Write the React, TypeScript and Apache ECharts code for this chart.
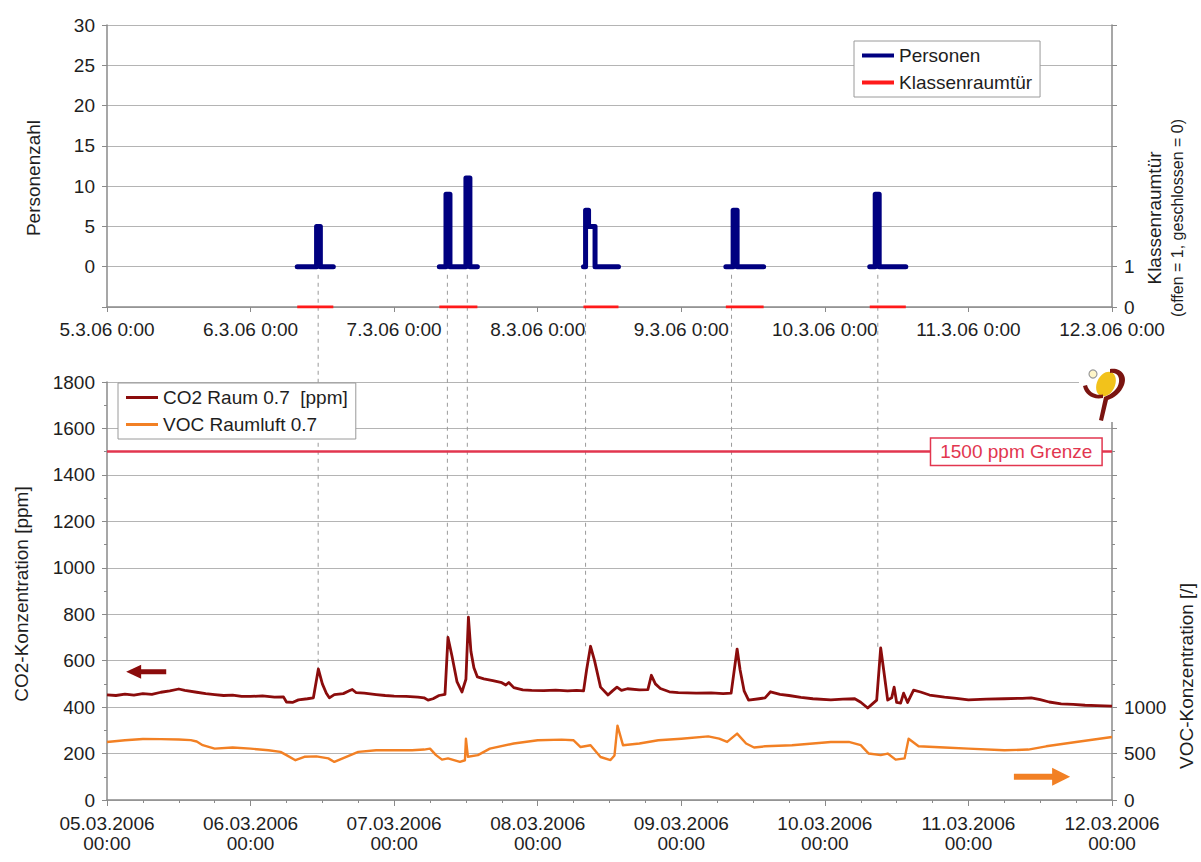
import React, { useEffect, useRef } from 'react';
import * as echarts from 'echarts';

// ---------- data ----------
const START_DAY = 5; // 05.03.2006 00:00

const topTickLabels = ['5.3.06 0:00', '6.3.06 0:00', '7.3.06 0:00', '8.3.06 0:00', '9.3.06 0:00', '10.3.06 0:00', '11.3.06 0:00', '12.3.06 0:00'];
const bottomTickLabels = ['05.03.2006\n00:00', '06.03.2006\n00:00', '07.03.2006\n00:00', '08.03.2006\n00:00', '09.03.2006\n00:00', '10.03.2006\n00:00', '11.03.2006\n00:00', '12.03.2006\n00:00'];

// persons (null = gap between lessons)
const personData: ([string, number] | null)[] = [
  ['6 07:48', 0], ['6 11:02', 0], ['6 11:02', 5], ['6 11:40', 5], ['6 11:40', 0], ['6 13:50', 0], null,
  ['7 07:33', 0], ['7 08:40', 0], ['7 08:40', 9], ['7 09:20', 9], ['7 09:20', 0], ['7 12:00', 0], ['7 12:00', 11], ['7 12:40', 11], ['7 12:40', 0], ['7 13:55', 0], null,
  ['8 07:39', 0], ['8 08:00', 0], ['8 08:00', 7], ['8 08:30', 7], ['8 08:30', 5], ['8 09:35', 5], ['8 09:35', 0], ['8 13:30', 0], null,
  ['9 07:27', 0], ['9 08:40', 0], ['9 08:40', 7], ['9 09:20', 7], ['9 09:20', 0], ['9 13:46', 0], null,
  ['10 07:30', 0], ['10 08:25', 0], ['10 08:25', 9], ['10 09:05', 9], ['10 09:05', 0], ['10 13:32', 0],
];

// classroom door (0 = closed)
const doorData: ([string, number] | null)[] = [
  ['6 07:48', 0], ['6 13:50', 0], null,
  ['7 07:33', 0], ['7 13:55', 0], null,
  ['8 07:39', 0], ['8 13:30', 0], null,
  ['9 07:27', 0], ['9 13:46', 0], null,
  ['10 07:30', 0], ['10 13:32', 0],
];

const co2Data: [string, number][] = [
  ['5 00:00', 453], ['5 01:30', 450], ['5 03:00', 456], ['5 04:30', 452], ['5 06:00', 458], ['5 07:30', 455], ['5 09:00', 464], ['5 10:30', 470], ['5 12:00', 478], ['5 13:00', 472], ['5 15:00', 464], ['5 16:30', 458], ['5 18:00', 454], ['5 19:30', 450], ['5 21:00', 452], ['5 22:30', 446],
  ['6 00:00', 446], ['6 02:00', 448], ['6 04:00', 443], ['6 05:30', 444], ['6 06:00', 422], ['6 07:00', 420], ['6 08:00', 431], ['6 09:30', 436], ['6 10:30', 440], ['6 11:20', 564], ['6 12:00', 500], ['6 12:40', 460], ['6 13:10', 440], ['6 14:00', 454], ['6 15:30', 458], ['6 16:30', 470], ['6 17:00', 476], ['6 17:40', 462], ['6 19:00', 460], ['6 21:00', 454], ['6 22:30', 450],
  ['7 00:00', 447], ['7 02:00', 446], ['7 04:00', 443], ['7 05:00', 440], ['7 05:40', 430], ['7 06:30', 436], ['7 07:30', 450], ['7 08:30', 455], ['7 09:00', 700], ['7 09:40', 620], ['7 10:30', 510], ['7 11:20', 465], ['7 12:00', 520], ['7 12:25', 787], ['7 12:50', 640], ['7 13:20', 570], ['7 13:55', 530], ['7 15:00', 522], ['7 16:30', 514], ['7 18:00', 505], ['7 18:40', 495], ['7 19:10', 506], ['7 20:00', 484], ['7 21:30', 474], ['7 23:00', 472],
  ['8 01:00', 471], ['8 03:00', 473], ['8 05:00', 470], ['8 06:30', 472], ['8 07:40', 470], ['8 08:10', 560], ['8 08:50', 662], ['8 09:30', 600], ['8 10:30', 486], ['8 11:45', 452], ['8 12:30', 470], ['8 13:15', 486], ['8 14:00', 472], ['8 15:00', 479], ['8 17:00', 474], ['8 18:25', 475], ['8 19:00', 537], ['8 19:40', 500], ['8 20:30', 480], ['8 22:00', 466], ['8 23:30', 462],
  ['9 02:30', 460], ['9 05:00', 461], ['9 07:00', 458], ['9 08:20', 460], ['9 09:20', 650], ['9 09:50', 560], ['9 10:30', 470], ['9 11:15', 430], ['9 13:00', 436], ['9 14:00', 440], ['9 14:55', 466], ['9 16:30', 455], ['9 18:00', 450], ['9 20:00', 442], ['9 22:00', 436],
  ['10 01:00', 431], ['10 03:00', 434], ['10 05:00', 436], ['10 06:00', 421], ['10 07:10', 396], ['10 08:00', 415], ['10 08:40', 430], ['10 09:20', 655], ['10 09:50', 560], ['10 10:30', 430], ['10 11:10', 440], ['10 11:35', 486], ['10 12:00', 420], ['10 12:40', 417], ['10 13:10', 460], ['10 13:50', 420], ['10 14:50', 473], ['10 16:00', 465], ['10 17:30', 452], ['10 20:00', 443], ['10 22:00', 438],
  ['11 00:00', 431], ['11 03:00', 434], ['11 06:00', 436], ['11 09:00', 438], ['11 10:30', 440], ['11 12:00', 432], ['11 13:30', 422], ['11 15:30', 414], ['11 17:30', 412], ['11 19:30', 408], ['11 21:30', 406], ['12 00:00', 404],
];

const vocData: [string, number][] = [
  ['5 00:00', 625], ['5 03:00', 643], ['5 06:00', 657], ['5 09:00', 655], ['5 12:00', 652], ['5 14:00', 645], ['5 15:00', 630], ['5 16:00', 590], ['5 18:00', 553], ['5 21:00', 565],
  ['6 00:00', 553], ['6 03:00', 535], ['6 05:00', 518], ['6 06:00', 483], ['6 07:30', 428], ['6 09:00', 465], ['6 11:00', 470], ['6 13:00', 448], ['6 14:00', 410], ['6 16:00', 465], ['6 18:00', 518], ['6 21:00', 535],
  ['7 00:00', 535], ['7 03:00', 535], ['7 05:00', 543], ['7 06:00', 553], ['7 07:00', 483], ['7 08:00', 435], ['7 09:00', 448], ['7 11:00', 410], ['7 11:50', 428], ['7 12:00', 660], ['7 12:20', 465], ['7 14:00', 483], ['7 16:00', 553], ['7 20:00', 608],
  ['8 00:00', 643], ['8 04:00', 650], ['8 06:00', 643], ['8 07:10', 570], ['8 08:50', 590], ['8 10:30', 463], ['8 12:10', 430], ['8 12:50', 480], ['8 13:20', 800], ['8 14:15', 590], ['8 17:00', 608], ['8 20:10', 643],
  ['9 00:00', 660], ['9 04:30', 685], ['9 06:20', 660], ['9 07:40', 625], ['9 09:20', 715], ['9 10:50', 608], ['9 12:10', 565], ['9 14:00', 578], ['9 18:30', 590],
  ['10 01:00', 625], ['10 04:00', 625], ['10 06:00', 590], ['10 07:20', 500], ['10 09:20', 483], ['10 10:30', 500], ['10 11:50', 435], ['10 13:20', 448], ['10 14:00', 660], ['10 15:40', 578], ['10 20:00', 565],
  ['11 00:00', 553], ['11 06:00', 535], ['11 10:00', 543], ['11 13:00', 578], ['11 18:00', 625], ['12 00:00', 678],
];

// dashed connector lines: person event time and CO2 peak reached
const eventTimes = ['6 11:18', '7 08:54', '7 12:14', '8 08:00', '9 08:24', '10 08:51'];
const eventPeaks = [565, 700, 787, 662, 650, 655];

const LIMIT = 1500;
const LIMIT_LABEL_TIME = '11 08:00';
const LIMIT_LABEL = '1500 ppm Grenze';

// ---------- helpers ----------
const toH = (s: string) => {
  const [d, hm] = s.split(' ');
  const [h, m] = hm.split(':').map(Number);
  return (Number(d) - START_DAY) * 24 + h + m / 60;
};
const conv = (arr: ([string, number] | null)[]) =>
  arr.map((p) => (p ? [toH(p[0]), p[1]] : [null, null]));

const FONT = '"Liberation Sans", Arial, sans-serif';
const TXT = '#1e1e1e';
const GRID = '#b4b4b4';
const AXIS = '#8a8a8a';
const NAVY = '#000080';
const RED = '#ff1a1a';
const CO2C = '#8b0c0c';
const VOCC = '#f28024';
const LIMC = '#e2364f';
const FS = 19;

let registered = false;
function registerLogo() {
  if (registered) return;
  registered = true;
  echarts.graphic.registerShape(
    'logoSwirl',
    echarts.graphic.extendPath(
      'M30 2 C40 0 48 8 44 18 C41 26 34 31 28 33 L23 54 L19 53 L24 30 C32 27 38 22 39 15 C40 9 36 5 30 6 Z',
      {}
    )
  );
  echarts.graphic.registerShape(
    'logoHook',
    echarts.graphic.extendPath('M3 19 C5 28 13 33 23 31 L23 27.5 C15 29 9 25 7 18 Z', {})
  );
}

export default function App() {
  const ref = useRef<HTMLDivElement>(null);

  useEffect(() => {
    document.body.style.margin = '0';
    registerLogo();
    const chart = echarts.init(ref.current!, null, { renderer: 'svg' });

    const axisLabel = { color: TXT, fontSize: FS, fontFamily: FONT };
    const legendBase = {
      orient: 'vertical',
      padding: [5, 8, 5, 8],
      itemGap: 8,
      itemWidth: 32,
      icon: 'rect',
      backgroundColor: '#fff',
      borderColor: '#9a9a9a',
      borderWidth: 1,
      textStyle: { ...axisLabel },
    };

    const option: any = {
      animation: false,
      backgroundColor: '#ffffff',
      textStyle: { fontFamily: FONT },
      grid: [
        { left: 107, right: 89, top: 25, height: 282 },
        { left: 107, right: 89, top: 382, height: 418 },
      ],
      legend: [
        { ...legendBase, data: ['Personen', 'Klassenraumtür'], left: 854, top: 41, itemHeight: 4 },
        { ...legendBase, data: ['CO2 Raum 0.7  [ppm]', 'VOC Raumluft 0.7'], left: 118, top: 383, itemHeight: 3 },
      ],
      xAxis: [
        {
          gridIndex: 0,
          type: 'value',
          min: 0,
          max: 168,
          interval: 24,
          axisLine: { onZero: false, lineStyle: { color: AXIS, width: 1.5 } },
          axisTick: { show: true, length: 5, lineStyle: { color: AXIS } },
          axisLabel: { ...axisLabel, margin: 13, formatter: (v: number) => topTickLabels[Math.round(v / 24)] },
          splitLine: { show: false },
        },
        {
          gridIndex: 1,
          type: 'value',
          min: 0,
          max: 168,
          interval: 24,
          axisLine: { onZero: false, lineStyle: { color: AXIS, width: 1.5 } },
          axisTick: { show: true, length: 6, lineStyle: { color: AXIS } },
          minorTick: { show: true, splitNumber: 4, length: 3, lineStyle: { color: AXIS } },
          axisLabel: { ...axisLabel, margin: 13, lineHeight: 20, formatter: (v: number) => bottomTickLabels[Math.round(v / 24)] },
          splitLine: { show: false },
        },
      ],
      yAxis: [
        {
          gridIndex: 0,
          type: 'value',
          min: -5,
          max: 30,
          interval: 5,
          axisLine: { show: true, onZero: false, lineStyle: { color: AXIS, width: 1.5 } },
          axisTick: { show: true, length: 5, lineStyle: { color: AXIS } },
          axisLabel: { ...axisLabel, margin: 12, formatter: (v: number) => (v < 0 ? '' : String(v)) },
          splitLine: { show: true, lineStyle: { color: GRID, width: 1.2 } },
        },
        {
          gridIndex: 0,
          type: 'value',
          position: 'right',
          min: 0,
          max: 7,
          interval: 1,
          axisLine: { show: true, onZero: false, lineStyle: { color: AXIS, width: 1.5 } },
          axisTick: { show: true, length: 5, lineStyle: { color: AXIS } },
          axisLabel: { ...axisLabel, margin: 12, formatter: (v: number) => (v <= 1 ? String(v) : '') },
          splitLine: { show: false },
        },
        {
          gridIndex: 1,
          type: 'value',
          min: 0,
          max: 1800,
          interval: 200,
          axisLine: { show: true, onZero: false, lineStyle: { color: AXIS, width: 1.5 } },
          axisTick: { show: true, length: 5, lineStyle: { color: AXIS } },
          minorTick: { show: true, splitNumber: 2, length: 3, lineStyle: { color: AXIS } },
          axisLabel: { ...axisLabel, margin: 12, formatter: (v: number) => String(v) },
          splitLine: { show: true, lineStyle: { color: GRID, width: 1.2 } },
        },
        {
          gridIndex: 1,
          type: 'value',
          position: 'right',
          min: 0,
          max: 4500,
          interval: 500,
          axisLine: { show: true, onZero: false, lineStyle: { color: AXIS, width: 1.5 } },
          axisTick: { show: true, length: 5, lineStyle: { color: AXIS } },
          minorTick: { show: true, splitNumber: 2, length: 3, lineStyle: { color: AXIS } },
          axisLabel: { ...axisLabel, margin: 12, formatter: (v: number) => (v <= 1000 ? String(v) : '') },
          splitLine: { show: false },
        },
      ],
      series: [
        {
          name: 'Personen',
          type: 'line',
          xAxisIndex: 0,
          yAxisIndex: 0,
          data: conv(personData),
          symbol: 'none',
          connectNulls: false,
          color: NAVY,
          lineStyle: { color: NAVY, width: 5, cap: 'round', join: 'round' },
          z: 5,
        },
        {
          name: 'Klassenraumtür',
          type: 'line',
          xAxisIndex: 0,
          yAxisIndex: 1,
          data: conv(doorData),
          symbol: 'none',
          connectNulls: false,
          color: RED,
          lineStyle: { color: RED, width: 3 },
          z: 6,
        },
        {
          name: 'CO2 Raum 0.7  [ppm]',
          type: 'line',
          xAxisIndex: 1,
          yAxisIndex: 2,
          data: conv(co2Data),
          symbol: 'none',
          color: CO2C,
          lineStyle: { color: CO2C, width: 2.8, join: 'round' },
          z: 5,
          markLine: {
            silent: true,
            symbol: 'none',
            label: { show: false },
            lineStyle: { color: LIMC, width: 2.5, type: 'solid' },
            data: [{ yAxis: LIMIT }],
          },
          markPoint: {
            silent: true,
            symbol: 'rect',
            symbolSize: 0,
            data: [{ coord: [toH(LIMIT_LABEL_TIME), LIMIT], value: LIMIT }],
            label: {
              show: true,
              position: 'inside',
              formatter: LIMIT_LABEL,
              color: LIMC,
              fontSize: FS,
              fontFamily: FONT,
              backgroundColor: '#fff',
              borderColor: LIMC,
              borderWidth: 1.5,
              padding: [4, 9, 3, 9],
            },
          },
        },
        {
          name: 'VOC Raumluft 0.7',
          type: 'line',
          xAxisIndex: 1,
          yAxisIndex: 3,
          data: conv(vocData),
          symbol: 'none',
          color: VOCC,
          lineStyle: { color: VOCC, width: 2.4, join: 'round' },
          z: 4,
        },
      ],
    };

    chart.setOption(option);

    const px = (xi: number, yi: number, pt: number[]) =>
      chart.convertToPixel({ xAxisIndex: xi, yAxisIndex: yi } as any, pt) as number[];

    const elements: any[] = [];

    // dashed connectors
    eventTimes.forEach((t, i) => {
      const h = toH(t);
      const a = px(0, 0, [h, -1]);
      const b = px(1, 2, [h, eventPeaks[i]]);
      elements.push({
        type: 'line',
        silent: true,
        z: 1,
        shape: { x1: a[0], y1: a[1], x2: b[0], y2: b[1] },
        style: { stroke: '#9a9a9a', lineWidth: 1, lineDash: [4, 4] },
      });
    });

    // left arrow (CO2 -> left axis)
    {
      const a = px(1, 2, [3.2, 552]);
      const b = px(1, 2, [9.9, 552]);
      const x0 = a[0], x1 = b[0], y = a[1];
      elements.push({
        type: 'polygon',
        silent: true,
        z: 10,
        shape: { points: [[x0, y], [x0 + 15, y - 7], [x0 + 15, y - 2.5], [x1, y - 2.5], [x1, y + 2.5], [x0 + 15, y + 2.5], [x0 + 15, y + 7]] },
        style: { fill: CO2C },
      });
    }
    // right arrow (VOC -> right axis)
    {
      const a = px(1, 3, [151.6, 250]);
      const b = px(1, 3, [161.0, 250]);
      const x0 = a[0], x1 = b[0], y = a[1];
      elements.push({
        type: 'polygon',
        silent: true,
        z: 10,
        shape: { points: [[x1, y], [x1 - 18, y - 9], [x1 - 18, y - 3], [x0, y - 3], [x0, y + 3], [x1 - 18, y + 3], [x1 - 18, y + 9]] },
        style: { fill: VOCC },
      });
    }

    // axis titles
    const title = (text: string, x: number, y: number, size = FS) => ({
      type: 'text',
      x,
      y,
      rotation: Math.PI / 2,
      silent: true,
      style: { text, fill: TXT, fontSize: size, fontFamily: FONT, align: 'center', verticalAlign: 'middle' },
    });
    elements.push(title('Personenzahl', 33, 178));
    elements.push(title('Klassenraumtür', 1154, 218));
    elements.push(title('(offen = 1, geschlossen = 0)', 1177, 218, 16));
    elements.push(title('CO2-Konzentration [ppm]', 21, 594));
    elements.push(title('VOC-Konzentration [/]', 1186, 676));

    // logo (decoration, top-right corner of the lower chart)
    elements.push({ type: 'rect', silent: true, z: 20, shape: { x: 1079, y: 372, width: 46, height: 50 }, style: { fill: '#fff' } });
    elements.push({
      type: 'ellipse', silent: true, z: 21,
      x: 1106, y: 384, rotation: -0.45,
      shape: { cx: 0, cy: 0, rx: 9, ry: 13 },
      style: { fill: '#f2c21b' },
    });
    elements.push({ type: 'logoSwirl', silent: true, z: 22, x: 1080, y: 367, scaleX: 1, scaleY: 1, style: { fill: '#7a1410' } });
    elements.push({ type: 'logoHook', silent: true, z: 22, x: 1080, y: 367, scaleX: 1, scaleY: 1, style: { fill: '#7a1410' } });
    elements.push({
      type: 'circle', silent: true, z: 23,
      shape: { cx: 1093, cy: 374, r: 4 },
      style: { fill: '#fff6c8', stroke: '#9a9a9a', lineWidth: 1.2 },
    });

    chart.setOption({ graphic: { elements } });

    return () => chart.dispose();
  }, []);

  return <div ref={ref} style={{ width: 1201, height: 862 }} />;
}
